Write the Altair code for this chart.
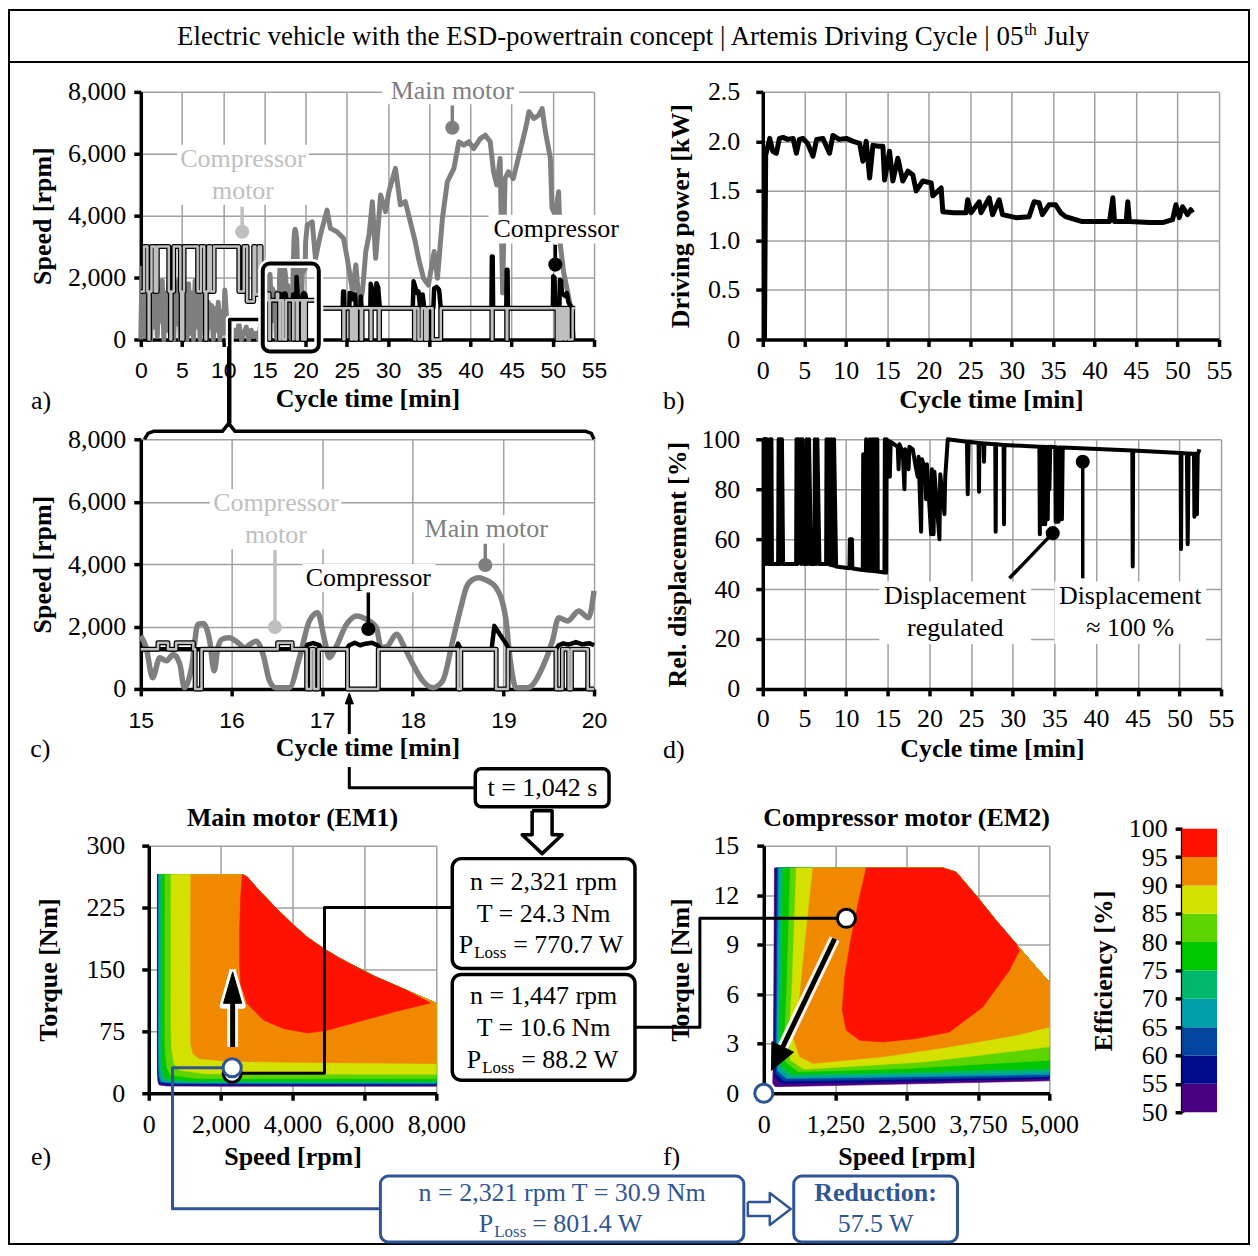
import altair as alt
import pandas as pd

SERIF = "Liberation Serif"
SANS = "Liberation Sans"
FS = 26
MAIN_C = "#7f7f7f"
CMOT_C = "#bfbfbf"
BLACK = "#000000"
BLUE_C = "#2f5597"
GRID_C = "#a0a0a0"

# ================= data =================
# (cycle time [min], speed [rpm])
main_motor_early = [(0.0,0),(0.15,2300),(0.3,200),(0.45,2500),(0.6,100),(0.75,1900),(0.9,300),(1.05,2100),(1.2,0),
    (1.4,1800),(1.6,400),(1.8,2000),(2.0,100),(2.2,1600),(2.4,600),(2.6,1900),(2.8,0),(3.0,1500),(3.2,300),
    (3.4,1800),(3.6,100),(3.8,2000),(4.0,0),(4.2,1700),(4.4,500),(4.6,1900),(4.8,0),(5.0,2200),(5.2,300),
    (5.4,1600),(5.6,0),(5.8,1800),(6.0,200),(6.2,1500),(6.4,0),(6.6,1900),(6.8,400),(7.0,1700),(7.2,0),
    (7.4,1400),(7.6,300),(7.8,1600),(8.0,0),(8.2,1200),(8.4,400),(8.6,1100),(8.8,0),(9.0,1000),(9.2,300),
    (9.4,1200),(9.6,0),(9.8,900),(10.0,200),(10.2,1600),(10.4,700),(10.6,100),(10.8,400),(11.0,0),(11.3,300),
    (11.6,100),(11.9,500),(12.2,0),(12.5,200),(12.8,400),(13.1,0),(13.4,300),(13.7,100),(14.0,200),(14.3,0),
    (14.6,600),(14.8,1700)]
main_motor_zoom = [(15.0,1700),(15.06,1320),(15.13,360),(15.21,1000),(15.28,900),(15.36,1100),(15.43,800),(15.48,40),
    (15.56,680),(15.63,2070),(15.69,2100),(15.76,1540),(15.81,580),(15.85,1320),(15.9,1600),(15.98,1640),
    (16.05,1530),(16.15,1320),(16.2,1420),(16.27,1530),(16.35,1100),(16.42,260),(16.49,40),(16.64,40),
    (16.75,1000),(16.86,2180),(16.95,2440),(17.03,1530),(17.08,1000),(17.15,1320),(17.27,2070),(17.38,2340),
    (17.49,2230),(17.6,1960),(17.65,1320),(17.72,1370),(17.82,1750),(17.91,1320),(18.0,800),(18.11,260),
    (18.22,40),(18.33,260),(18.44,1530),(18.53,2600),(18.59,3240),(18.66,3500),(18.73,3560),(18.8,3500),
    (18.92,3240),(19.03,2180),(19.06,1320),(19.14,40),(19.27,40),(19.43,680),(19.54,1530),(19.61,2280),
    (19.71,2180),(19.83,2500),(19.94,2280),(20.0,3140)]
main_motor_late = [(20.2,3700),(20.8,3800),(21.2,2620),(21.8,3380),(22.6,4180),(23.0,3590),(23.8,3480),(24.6,3270),
    (25.05,2620),(25.7,1550),(26.1,2410),(26.5,1120),(26.9,1550),(27.3,2840),(27.7,3380),(28.1,4450),
    (28.5,2620),(29.1,4670),(29.7,4130),(30.1,4770),(30.9,5530),(31.5,4350),(32.1,4450),(32.7,3810),
    (33.3,3160),(33.7,2620),(34.3,1980),(34.9,1760),(35.6,2840),(36.0,1980),(36.6,3910),(37.2,5100),
    (38.0,5530),(38.6,6390),(39.2,6280),(39.8,6390),(40.4,6170),(41.2,6490),(41.8,6600),(42.4,6390),
    (42.8,5420),(43.2,4990),(43.6,5850),(43.9,1500),(44.2,5200),(44.6,5420),(45.2,5200),(46.1,6170),
    (46.7,6820),(47.1,7360),(47.7,7140),(48.3,7250),(48.7,7460),(49.1,6710),(49.7,5850),(49.9,4240),
    (50.3,4020),(50.7,4770),(50.9,3060),(51.3,2190),(52.1,1120),(52.5,40)]
comp_motor_early = [(0.0,1550),(0.4,1550),(0.4,3000),(0.8,3000),(0.8,1550),(0.95,1550),(0.95,0),(1.05,0),(1.05,1550),
    (1.3,1550),(1.3,3000),(1.7,3000),(1.7,1550),(2.0,1550),(2.0,3000),(3.4,3000),(3.4,1550),(3.6,1550),(3.6,0),
    (3.7,0),(3.7,1550),(4.0,1550),(4.0,3000),(4.8,3000),(4.8,1550),(4.9,1550),(4.9,0),(5.15,0),(5.15,1550),
    (5.25,1550),(5.25,3000),(6.9,3000),(6.9,1550),(7.3,1550),(7.3,3000),(7.7,3000),(7.7,1550),(7.85,1550),
    (7.85,0),(7.95,0),(7.95,1550),(8.2,1550),(8.2,3000),(8.5,3000),(8.5,1550),(8.9,1550),(8.9,3000),
    (11.9,3000),(11.9,1550),(12.5,1550),(12.5,3000),(12.9,3000),(12.9,1230),(13.7,1230),(13.7,3000),
    (13.9,3000),(13.9,1450),(14.3,1450),(14.3,3000),(14.6,3000),(14.6,1270),(15.0,1270)]
comp_motor_zoom = [(15.0,1270),(15.19,1270),(15.19,1480),(15.3,1480),(15.3,1270),(15.39,1270),(15.39,1480),
    (15.58,1480),(15.58,1270),(15.6,1270),(15.6,0),(15.67,0),(15.67,1270),(16.51,1270),(16.51,1480),
    (16.67,1480),(16.67,1270),(16.83,1270),(16.83,0),(16.88,0),(16.88,1270),(16.91,1270),(16.91,0),
    (16.96,0),(16.96,1270),(17.28,1270),(17.28,0),(17.62,0),(17.62,1270),(18.5,1270),(18.5,0),(18.53,0),
    (18.53,1270),(18.92,1270),(18.92,0),(19.05,0),(19.05,1270),(19.58,1270),(19.58,0),(19.65,0),
    (19.65,1270),(19.72,1270),(19.72,0),(19.75,0),(19.75,1270),(19.93,1270),(19.93,0),(20.0,0)]
comp_motor_late = [(20.0,1270),(21.8,1270),(21.8,1010),(24.6,1010),(24.6,0),(24.7,0),(24.7,1010),(25.5,1010),
    (25.5,0),(25.7,0),(25.7,1010),(26.0,1010),(26.0,0),(26.2,0),(26.2,1010),(26.7,1010),(26.7,0),(26.85,0),
    (26.85,1010),(27.9,1010),(27.9,0),(27.97,0),(27.97,1010),(28.9,1010),(28.9,0),(28.97,0),(28.97,1010),
    (33.2,1010),(33.2,0),(33.3,0),(33.3,1010),(33.7,1010),(33.7,0),(34.1,0),(34.1,1010),(34.5,1010),
    (34.5,0),(34.8,0),(34.8,1010),(35.4,1010),(35.4,0),(36.4,0),(36.4,1010),(42.6,1010),(42.6,0),
    (42.67,0),(42.67,1010),(44.4,1010),(44.4,0),(44.47,0),(44.47,1010),(50.5,1010),(50.5,0),(50.7,0),
    (50.7,1010),(50.9,1010),(50.9,0),(51.1,0),(51.1,1010),(51.4,1010),(51.4,0),(51.6,0),(51.6,1010),
    (51.9,1010),(51.9,0),(52.4,0),(52.4,1010),(52.7,1010)]
compressor_zoom = [(15.0,1270),(16.82,1270),(16.84,1420),(16.9,1470),(16.97,1400),(16.99,1270),(17.27,1270),
    (17.3,1400),(17.36,1480),(17.42,1400),(17.48,1450),(17.55,1480),(17.62,1380),(17.65,1270),(18.48,1270),
    (18.5,1450),(18.53,1270),(18.87,1270),(18.9,2020),(18.96,1750),(19.03,1450),(19.06,1270),(19.58,1270),
    (19.61,1400),(19.66,1460),(19.72,1420),(19.8,1500),(19.87,1430),(19.95,1460),(20.0,1400)]
compressor_late = [(20.0,1400),(20.1,1270),(21.8,1270),(21.8,1010),(24.5,1010),(24.55,1550),(24.65,1550),
    (24.7,1010),(25.3,1010),(25.35,1500),(25.6,1480),(25.7,1300),(26.0,1450),(26.1,1010),(26.65,1010),
    (26.7,1390),(26.8,1010),(27.85,1010),(27.9,1800),(28.05,1650),(28.2,1010),(28.5,1010),(28.6,1820),
    (28.8,1700),(29.0,1010),(33.0,1010),(33.1,1880),(33.3,1700),(33.5,1500),(33.7,1550),(33.9,1010),
    (34.1,1010),(34.2,1450),(34.4,1010),(35.5,1010),(35.6,1650),(35.9,1700),(36.2,1600),(36.4,1010),
    (42.55,1010),(42.6,2680),(42.7,2680),(42.75,1010),(44.35,1010),(44.4,2250),(44.5,2250),(44.55,1010),
    (50.0,1010),(50.05,2040),(50.2,2000),(50.3,1010),(50.8,1010),(50.85,1930),(51.0,1900),(51.1,1500),
    (51.5,1400),(51.7,1500),(51.9,1200),(52.3,1010),(52.7,1010)]
# (cycle time [min], driving power [kW])
driving_power = [(0.2,0.0),(0.35,1.86),(0.84,2.03),(1.2,1.9),(1.64,1.88),(2.0,2.03),(2.44,2.04),(3.0,2.02),
    (3.65,2.03),(4.05,1.88),(4.4,2.02),(4.85,2.03),(5.4,1.98),(6.05,1.85),(6.5,2.02),(7.25,2.03),(8.05,1.88),
    (8.45,2.06),(9.2,2.02),(10.07,2.03),(10.9,2.0),(11.67,1.98),(12.07,1.80),(12.47,2.0),(12.88,1.63),
    (13.28,1.96),(14.0,1.95),(14.48,1.95),(14.68,1.61),(15.28,1.90),(15.68,1.60),(16.28,1.83),(16.88,1.60),
    (17.5,1.7),(18.09,1.66),(18.49,1.50),(19.29,1.60),(20.3,1.58),(20.5,1.45),(21.5,1.53),(21.7,1.29),
    (23.0,1.28),(24.5,1.28),(24.7,1.41),(25.1,1.28),(26.1,1.39),(26.3,1.28),(27.3,1.43),(27.7,1.26),
    (28.5,1.41),(28.9,1.26),(30.5,1.23),(32.1,1.24),(32.7,1.39),(33.3,1.38),(33.7,1.26),(34.5,1.36),
    (35.3,1.36),(35.9,1.28),(36.5,1.24),(38.5,1.19),(41.8,1.19),(42.2,1.43),(42.4,1.19),(43.8,1.19),
    (44.0,1.39),(44.2,1.19),(46.6,1.18),(48.2,1.18),(49.4,1.21),(49.8,1.36),(50.2,1.23),(50.6,1.34),
    (51.2,1.26),(51.6,1.31),(51.8,1.28)]
# (cycle time [min], relative displacement [%])
displacement = [(0.0,100),(0.24,100),(0.26,50),(0.3,100),(0.4,50),(0.5,100),(0.64,50),(0.84,50),(0.88,100),
    (0.95,50),(1.04,100),(1.1,50),(1.84,50),(1.9,100),(2.0,50),(2.1,100),(2.2,50),(2.3,100),(2.44,50),
    (4.0,50),(4.05,100),(4.15,50),(4.25,100),(4.4,60),(4.5,100),(4.6,50),(4.75,100),(5.0,50),(5.2,50),
    (5.25,100),(5.4,50),(5.55,100),(5.8,50),(6.2,50),(6.25,100),(6.4,50),(6.55,100),(6.8,50),(7.6,50),
    (7.65,100),(7.8,50),(7.95,100),(8.1,49.6),(8.25,100),(8.4,49.4),(8.55,100),(8.8,49),(10.4,48.3),
    (10.45,60),(10.7,60),(10.75,48.2),(12.0,47.6),(12.05,94),(12.2,47.5),(12.4,100),(12.45,47.4),
    (12.8,47.3),(12.85,100),(13.0,47.2),(13.15,100),(13.3,47.1),(13.45,100),(13.6,47),(13.75,100),
    (13.8,47),(14.6,46.6),(14.65,100),(14.8,46.5),(14.85,100),(15.2,99),(15.25,85),(15.35,99),(16.2,97),
    (16.3,88),(16.4,98),(16.8,95),(17.0,80),(17.1,96),(17.5,88),(17.6,97),(18.0,96),(18.3,90),(18.6,85),
    (18.7,93),(19.0,63),(19.1,92),(19.5,88),(19.6,76),(19.7,90),(20.2,62),(20.3,88),(20.5,62),(20.6,87),
    (21.2,60),(21.3,86),(21.8,70),(21.9,85),(22.2,100),(24.5,99),(24.6,78),(24.7,99),(25.9,98.5),
    (25.95,79),(26.0,98.5),(26.5,98.3),(26.55,91),(26.6,98.3),(27.9,98),(27.95,63),(28.0,98),(28.9,97.7),
    (28.95,66),(29.0,97.7),(33.2,97),(33.25,62),(33.3,97),(33.6,97),(33.65,66),(33.8,97),(33.9,66),
    (34.0,97),(34.2,68),(34.3,97),(34.4,80),(34.5,97),(35.1,96.8),(35.15,67),(35.3,96.8),(35.5,67),
    (35.7,96.8),(35.9,68),(36.0,96.7),(44.35,95.5),(44.4,49),(44.45,95.5),(50.15,94.5),(50.2,56),
    (50.25,94.5),(50.9,94.3),(51.0,58),(51.1,94.3),(51.75,94.2),(51.8,69),(51.9,94.2),(52.1,70),
    (52.2,94),(52.4,96)]

# efficiency legend
eff_levels = [50, 55, 60, 65, 70, 75, 80, 85, 90, 95]
eff_colors = ["#4b0082", "#000c8c", "#0046a0", "#00a0aa", "#00b86c",
              "#00c800", "#5cd400", "#d4e000", "#f08800", "#ff1100"]

# main motor EM1 map: (speed [rpm], torque [Nm])
em1_envelope_top = [(8000,109),(7185,124.5),(6260,142),(5330,163),(4870,175),(4410,189),(3945,207),
    (3480,227),(3020,248),(2740,262),(2600,265)]
em1_bounds = [
    [(240,265),(238,60),(242,25),(255,14),(290,10),(500,8.8),(2000,8.5),(8000,8.5)],
    [(248,265),(246,60),(250,27),(265,16),(300,11.5),(600,10.2),(8000,10)],
    [(258,265),(256,60),(262,29),(278,18),(320,12.8),(700,11.3),(8000,11)],
    [(275,265),(272,60),(280,32),(300,20),(345,14),(800,12.3),(8000,12)],
    [(300,265),(297,60),(306,35),(330,22),(380,15.5),(900,13.3),(8000,13)],
    [(360,265),(356,65),(370,40),(400,26),(470,18),(1100,15),(8000,14.5)],
    [(450,265),(445,70),(465,45),(510,30),(600,22),(1300,18),(8000,17.5)],
    [(620,265),(615,80),(640,52),(700,36),(850,28),(1600,23.5),(8000,23)],
    [(1167,265),(1160,120),(1167,60),(1230,48),(1398,42),(2092,39),(4000,37.5),(8000,36)],
]
em1_red = [(2602,265),(2556,237.5),(2528,197),(2528,157),(2556,132.6),(2741,108.5),(3204,88.3),(3759,78.2),
    (4407,73),(4963,76.2),(5796,86.3),(6815,98.4),(7833,109.3)]
# compressor motor EM2 map
em2_envelope_top = [(5000,6.73),(4767,7.64),(4418,9.05),(4068,10.46),(3718,11.97),(3369,13.39),(3135,13.65)]
em2_bounds = [
    [(186,13.65),(175,6),(165,2),(157,0.6),(200,0.4),(1000,0.45),(5000,0.75)],
    [(210,13.65),(195,6),(185,2.2),(190,1.0),(300,0.6),(1500,0.65),(5000,0.89)],
    [(233,13.65),(215,6),(205,2.4),(215,1.2),(350,0.75),(1600,0.8),(5000,1.0)],
    [(256,13.65),(235,6),(225,2.6),(240,1.35),(400,0.9),(1800,0.95),(5000,1.14)],
    [(292,13.65),(265,6),(250,2.8),(270,1.5),(450,1.0),(2000,1.1),(5000,1.3)],
    [(338,13.65),(300,6),(280,3.0),(300,1.7),(500,1.15),(2200,1.25),(5000,1.5)],
    [(466,13.65),(400,6),(360,3.2),(380,1.9),(600,1.3),(2500,1.5),(5000,2.0)],
    [(571,13.65),(490,6),(440,3.3),(470,2.0),(700,1.45),(2800,1.9),(5000,2.81)],
    [(862,13.65),(746,9.86),(629,5.83),(513,3.41),(629,2.21),(862,1.81),(2086,2.21),(3252,2.81),(4418,3.51),(5000,4.01)],
]
em2_red = [(1795,13.65),(1678,11.9),(1532,9.45),(1416,7.04),(1375,5.02),(1445,3.81),(1678,3.21),(2086,3.11),
    (2669,3.31),(3252,3.71),(3834,5.22),(4300,7.44),(4475,8.65)]

# operating points
op_em1 = (2321, 24.3)
op_em1_alt = (2321, 30.9)
op_em2 = (1447, 10.6)
op_em2_alt = (0, 0)
t_event = 17.3


# ================= helpers =================
def pdf(pairs):
    return pd.DataFrame({"x": [float(p[0]) for p in pairs],
                         "y": [float(p[1]) for p in pairs],
                         "i": list(range(len(pairs)))})


ONE = pd.DataFrame({"k": [0]})


class Panel:
    def __init__(self, xdom, ydom, xaxis=None, yaxis=None, yrev=False):
        self.xs = alt.Scale(domain=xdom, nice=False, zero=False)
        self.ys = alt.Scale(domain=ydom, nice=False, zero=False, reverse=yrev)
        self.xa = xaxis
        self.ya = yaxis

    def X(self, f):
        return alt.X(f, type="quantitative", scale=self.xs, axis=self.xa)

    def Y(self, f):
        return alt.Y(f, type="quantitative", scale=self.ys, axis=self.ya)

    def line(self, pairs, color, width, interp="linear", fill=None, opacity=1.0, cap="butt"):
        kw = dict(stroke=color, strokeWidth=width, interpolate=interp, strokeJoin="round",
                  opacity=opacity, strokeCap=cap)
        if fill is not None:
            kw["fill"] = fill
        return alt.Chart(pdf(pairs)).mark_line(**kw).encode(
            x=self.X("x"), y=self.Y("y"), order=alt.Order("i:Q"))

    def poly(self, pairs, fill, stroke=None, sw=0.6):
        return self.line(pairs + [pairs[0]], stroke or fill, sw, fill=fill)

    def text(self, rows, size=FS, weight="normal", align="center", font=SERIF):
        df = pd.DataFrame(rows, columns=["x", "y", "s", "c"])
        return alt.Chart(df).mark_text(font=font, fontSize=size, fontWeight=weight, align=align,
                                       baseline="middle").encode(
            x=self.X("x"), y=self.Y("y"), text="s:N", color=alt.Color("c:N", scale=None))

    def rect(self, rows, fill="white", stroke=None, sw=0, radius=0, fill_opacity=1.0):
        df = pd.DataFrame(rows, columns=["x1", "x2", "y1", "y2"])
        kw = dict(fill=fill, fillOpacity=fill_opacity, cornerRadius=radius)
        if stroke:
            kw.update(stroke=stroke, strokeWidth=sw)
        return alt.Chart(df).mark_rect(**kw).encode(
            x=self.X("x1"), x2=alt.X2("x2"), y=self.Y("y1"), y2=alt.Y2("y2"))

    def dots(self, rows, size):
        df = pd.DataFrame(rows, columns=["x", "y", "c"])
        return alt.Chart(df).mark_circle(size=size, opacity=1).encode(
            x=self.X("x"), y=self.Y("y"), color=alt.Color("c:N", scale=None))

    def rings(self, rows, size, sw=3):
        df = pd.DataFrame(rows, columns=["x", "y", "c"])
        return alt.Chart(df).mark_point(shape="circle", filled=False, fill="white", fillOpacity=1,
                                        size=size, strokeWidth=sw, opacity=1).encode(
            x=self.X("x"), y=self.Y("y"), stroke=alt.Stroke("c:N", scale=None))


def abs_text(text, x, y, size=FS, align="center", weight="normal"):
    return alt.Chart(ONE).mark_text(text=text, font=SERIF, fontSize=size, align=align, baseline="middle",
                                    fontWeight=weight, color="black").encode(
        x=alt.value(x), y=alt.value(y))


def spacer(w, h):
    return alt.Chart(ONE).mark_point(opacity=0).properties(width=w, height=h)


# ================= panel a =================
ax_a = alt.Axis(title="Cycle time [min]", values=list(range(0, 56, 5)), labelFont=SANS,
                labelFontSize=23, labelPadding=13, titlePadding=3)
ay_rpm = alt.Axis(title="Speed [rpm]", values=[0, 2000, 4000, 6000, 8000], format=",d",
                  labelPadding=8, titlePadding=12)
A = Panel([0, 55], [0, 8000], ax_a, ay_rpm)
cm_all = comp_motor_early + comp_motor_zoom + comp_motor_late
link_path = [(10.79, -2710), (10.79, 645), (14.8, 645)]
layers_a = [
    A.line(main_motor_early + main_motor_zoom + main_motor_late, MAIN_C, 5),
    A.line(compressor_zoom + compressor_late, BLACK, 4.5),
    A.line(cm_all, BLACK, 5),
    A.line(cm_all, CMOT_C, 2.5),
    A.rect([(29.3, 45.9, 7600, 8420), (4.4, 20.4, 4350, 6290), (42.2, 58.4, 3100, 4030)]),
    A.text([(37.8, 8030, "Main motor", MAIN_C), (12.4, 5840, "Compressor", CMOT_C),
            (12.4, 4810, "motor", CMOT_C), (50.4, 3580, "Compressor", BLACK)]),
    A.line([(37.8, 7560), (37.8, 6840)], MAIN_C, 3.5),
    A.line([(12.3, 4290), (12.3, 3480)], CMOT_C, 3.5),
    A.line([(50.3, 3060), (50.3, 2420)], BLACK, 3.5),
    A.dots([(37.8, 6840, MAIN_C), (12.3, 3480, CMOT_C), (50.3, 2420, BLACK)], 200),
    A.line([(10.79, -120), (10.79, 645), (14.8, 645)], "white", 8),
    A.line(link_path, BLACK, 3.5),
    A.rect([(14.8, 21.6, -387, 2452)], fill_opacity=0, stroke="white", sw=9, radius=7),
    A.rect([(14.8, 21.6, -387, 2452)], fill_opacity=0, stroke=BLACK, sw=4, radius=7),
    A.text([(-13.33, -2000, "a)", BLACK)], align="left"),
    # figure frame and heading
    alt.Chart(ONE).mark_rect(fill="white", fillOpacity=0, stroke="black", strokeWidth=2).encode(
        x=alt.value(-132), x2=alt.value(1110), y=alt.value(-82), y2=alt.value(1154)),
    alt.Chart(ONE).mark_rule(color="black", strokeWidth=2).encode(
        x=alt.value(-132), x2=alt.value(1110), y=alt.value(-30)),
    abs_text("Electric vehicle with the ESD-powertrain concept | Artemis Driving Cycle | 05", 884, -55,
             size=27, align="right"),
    abs_text("th", 885, -62, size=16, align="left"),
    abs_text("July", 905, -55, size=27, align="left"),
]
chart_a = alt.layer(*layers_a).properties(width=454, height=248)

# ================= panel b =================
ax_b = alt.Axis(title="Cycle time [min]", values=list(range(0, 56, 5)), labelPadding=11, titlePadding=3)
ay_b = alt.Axis(title="Driving power [kW]", values=[0, 0.5, 1, 1.5, 2, 2.5],
                labelExpr="datum.value == 0 ? '0' : format(datum.value, '.1f')",
                labelPadding=16, titlePadding=14)
B = Panel([0, 55], [0, 2.5], ax_b, ay_b)
chart_b = alt.layer(
    B.line(driving_power, BLACK, 5),
    B.text([(-12.03, -0.625, "b)", BLACK)], align="left"),
).properties(width=457, height=248)

# ================= panel c =================
ax_c = alt.Axis(title="Cycle time [min]", values=[15, 16, 17, 18, 19, 20], labelFont=SANS,
                labelFontSize=23, labelPadding=14, titlePadding=2)
C = Panel([15, 20], [0, 8000], ax_c, ay_rpm)
hollow_down = [(19.317, -3904), (19.537, -3904), (19.537, -4672), (19.648, -4672), (19.427, -5280),
               (19.207, -4672), (19.317, -4672)]
layers_c = [
    C.line(main_motor_zoom, MAIN_C, 5.5, interp="monotone"),
    C.line(compressor_zoom, BLACK, 4.5),
    C.line(comp_motor_zoom, BLACK, 5),
    C.line(comp_motor_zoom, CMOT_C, 2.5),
    C.rect([(15.76, 17.21, 4480, 6400), (18.09, 19.53, 4670, 5570), (16.78, 18.25, 3100, 4000)]),
    C.text([(16.49, 5950, "Compressor", CMOT_C), (16.49, 4930, "motor", CMOT_C),
            (18.81, 5120, "Main motor", MAIN_C), (17.51, 3550, "Compressor", BLACK)]),
    C.line([(16.48, 4450), (16.48, 1980)], CMOT_C, 3.5),
    C.line([(18.8, 4650), (18.8, 3970)], MAIN_C, 3.5),
    C.line([(17.51, 3090), (17.51, 1920)], BLACK, 3.5),
    C.dots([(16.48, 1980, CMOT_C), (18.8, 3970, MAIN_C), (17.51, 1920, BLACK)], 200),
    # bracket linking panel a and panel c
    C.line([(15.04, 8000), (15.08, 8190), (15.14, 8256), (15.9, 8256), (15.97, 8512), (16.04, 8256),
            (19.91, 8256), (19.97, 8190), (20.0, 8000)], BLACK, 3.5),
    C.line([(15.97, 8512), (15.97, 10976)], BLACK, 3.5),
    # event time marker
    C.poly([(t_event, -130), (t_event - 0.045, -480), (t_event + 0.045, -480)], BLACK, BLACK, 1),
    C.line([(t_event, -450), (t_event, -1450)], BLACK, 3),
    C.line([(t_event, -2500), (t_event, -3168), (18.69, -3168)], BLACK, 3),
    C.rect([(18.69, 20.165, -2560, -3776)], stroke=BLACK, sw=3.5, radius=6),
    C.text([(19.43, -3168, "t = 1,042 s", BLACK)]),
    C.poly(hollow_down, "white", BLACK, 3.5),
    C.text([(13.78, -1920, "c)", BLACK)], align="left"),
]
chart_c = alt.layer(*layers_c).properties(width=454, height=250)

# ================= panel d =================
ax_d = alt.Axis(title="Cycle time [min]", values=list(range(0, 56, 5)), labelPadding=10, titlePadding=4)
ay_d = alt.Axis(title="Rel. displacement [%]", values=[0, 20, 40, 60, 80, 100],
                labelPadding=16, titlePadding=10)
D = Panel([0, 55], [0, 100], ax_d, ay_d)
chart_d = alt.layer(
    D.line(displacement, BLACK, 4),
    D.rect([(14.0, 32.2, 18, 43), (35.0, 53.2, 18, 43)]),
    D.text([(23.1, 37.3, "Displacement", BLACK), (23.1, 24.5, "regulated", BLACK),
            (44.1, 37.3, "Displacement", BLACK), (44.1, 24.5, "\u2248 100 %", BLACK)]),
    D.line([(29.6, 44.3), (34.8, 62.4)], BLACK, 3.5),
    D.line([(38.4, 44.3), (38.4, 91)], BLACK, 3.5),
    D.dots([(34.8, 62.4, BLACK), (38.4, 91, BLACK)], 200),
    D.text([(-11.98, -24.5, "d)", BLACK)], align="left"),
).properties(width=459, height=250)

# ================= panel e =================
ax_e = alt.Axis(title="Speed [rpm]", values=[0, 2000, 4000, 6000, 8000], format=",d", labelPadding=11,
                titlePadding=6)
ay_e = alt.Axis(title="Torque [Nm]", values=[0, 75, 150, 225, 300], labelPadding=17, titlePadding=24)
E = Panel([0, 8000], [0, 300], ax_e, ay_e)
layers_e = []
for bound, col in zip(em1_bounds, eff_colors[:9]):
    layers_e.append(E.poly(bound + em1_envelope_top, col))
layers_e.append(E.poly(em1_red + [p for p in em1_envelope_top if p[0] < em1_red[-1][0]], eff_colors[9]))
layers_e += [
    E.line([op_em1, (4889, op_em1[1]), (4889, 225), (8444, 225)], BLACK, 3),
    E.line([op_em1_alt, (660, op_em1_alt[1]), (660, -140), (6444, -140)], BLUE_C, 3),
    E.line([(2333, 56), (2333, 112)], "white", 11, opacity=0.9),
    E.poly([(2333, 150), (2055, 106), (2611, 106)], "white", "white", 6),
    E.line([(2333, 56), (2333, 112)], BLACK, 5),
    E.poly([(2333, 147), (2080, 109), (2586, 109)], BLACK, BLACK, 1),
    E.rings([(op_em1[0], op_em1[1], BLACK)], 330),
    E.rings([(op_em1_alt[0], op_em1_alt[1], BLUE_C)], 330),
    E.text([(-3278, -77, "e)", BLACK)], align="left"),
]
chart_e = alt.layer(*layers_e).properties(
    width=288, height=248,
    title=alt.TitleParams("Main motor (EM1)", font=SERIF, fontSize=FS, fontWeight="bold", color="black",
                          offset=2))

# ================= panel f =================
ax_f = alt.Axis(title="Speed [rpm]", values=[0, 1250, 2500, 3750, 5000], format=",d", labelPadding=11,
                titlePadding=6)
ay_f = alt.Axis(title="Torque [Nm]", values=[0, 3, 6, 9, 12, 15], labelPadding=18, titlePadding=19)
F = Panel([0, 5000], [0, 15], ax_f, ay_f)
layers_f = []
for bound, col in zip(em2_bounds, eff_colors[:9]):
    layers_f.append(F.poly(bound + em2_envelope_top, col))
layers_f.append(F.poly(em2_red + [p for p in em2_envelope_top if p[0] < em2_red[-1][0]], eff_colors[9]))
layers_f += [
    F.line([(-2255, 4.0), (-1119, 4.0), (-1119, op_em2[1]), op_em2], BLACK, 3),
    F.line([(1241, 9.36), (332, 2.80)], "white", 11, opacity=0.9),
    F.line([(1241, 9.36), (332, 2.80)], BLACK, 5),
    F.poly([(134, 1.39), (521, 2.49), (143, 3.12)], BLACK, BLACK, 1),
    F.rings([(op_em2[0], op_em2[1], BLACK)], 330),
    F.rings([(op_em2_alt[0], op_em2_alt[1], BLUE_C)], 330),
    F.text([(-1766, -3.87, "f)", BLACK)], align="left"),
]
chart_f = alt.layer(*layers_f).properties(
    width=286, height=248,
    title=alt.TitleParams("Compressor motor (EM2)", font=SERIF, fontSize=FS, fontWeight="bold",
                          color="black", offset=2))

# ================= annotation boxes between the maps =================
M = Panel([0, 328], [0, 248], None, None, yrev=True)
layers_m = [
    M.rect([(16, 199, 13, 123), (16, 199, 129, 235)], stroke=BLACK, sw=3.5, radius=9),
    M.text([(107.5, 36, "n = 2,321 rpm", BLACK), (107.5, 68, "T = 24.3 Nm", BLACK),
            (107.5, 151, "n = 1,447 rpm", BLACK), (107.5, 183, "T = 10.6 Nm", BLACK)]),
    M.text([(37, 100, "P", BLACK), (45, 215, "P", BLACK)], align="right"),
    M.text([(38, 108, "Loss", BLACK), (46, 223, "Loss", BLACK)], size=17, align="left"),
    M.text([(77, 100, "= 770.7 W", BLACK), (85, 215, "= 88.2 W", BLACK)], align="left"),
    M.rect([(-56, 308, 331, 397), (358, 522, 331, 397)], stroke=BLUE_C, sw=3, radius=8),
    M.text([(126, 348, "n = 2,321 rpm  T = 30.9 Nm", BLUE_C), (440, 379, "57.5 W", BLUE_C)]),
    M.text([(440, 348, "Reduction:", BLUE_C)], weight="bold"),
    M.text([(57, 379, "P", BLUE_C)], align="right"),
    M.text([(58, 387, "Loss", BLUE_C)], size=17, align="left"),
    M.text([(96, 379, "= 801.4 W", BLUE_C)], align="left"),
    M.poly([(312, 357), (334, 357), (334, 348), (355, 364), (334, 380), (334, 371), (312, 371)],
           "white", BLUE_C, 2.5),
]
chart_m = alt.layer(*layers_m).properties(width=328, height=248)

# ================= colour bar =================
cb_df = pd.DataFrame({"lo": eff_levels, "hi": [v + 5 for v in eff_levels], "c": eff_colors,
                      "x0": [0] * len(eff_levels), "x1": [1] * len(eff_levels)})
chart_cb = alt.Chart(cb_df).mark_rect().encode(
    x=alt.X("x0:Q", scale=alt.Scale(domain=[0, 1]), axis=None),
    x2="x1:Q",
    y=alt.Y("lo:Q", scale=alt.Scale(domain=[50, 100], range=[267, -17], nice=False, zero=False),
            axis=alt.Axis(title="Efficiency [%]", values=eff_levels + [100], grid=False,
                          labelPadding=8, titlePadding=12)),
    y2="hi:Q",
    color=alt.Color("c:N", scale=None),
).properties(width=35, height=248)

# ================= layout =================
# nested rows count as zero height in the flush outer layout, so the spacers carry row height + gap
row1 = alt.hconcat(chart_a, chart_b, spacing=169, bounds="flush")
row2 = alt.hconcat(chart_c, chart_d, spacing=169, bounds="flush")
row3 = alt.hconcat(spacer(8, 248), chart_e, chart_m, chart_f, spacer(133, 248), chart_cb,
                   spacing=0, bounds="flush")
chart = alt.vconcat(row1, spacer(10, 348), row2, spacer(10, 407), row3, spacing=0, bounds="flush")
chart = chart.properties(padding=0, background="white").configure_view(stroke=None).configure_axis(
    domainColor="black", domainWidth=3.5, tickColor="black", tickWidth=3.5, tickSize=7,
    grid=True, gridColor=GRID_C, gridWidth=1.5,
    labelFont=SERIF, labelFontSize=FS, labelColor="black",
    titleFont=SERIF, titleFontSize=FS, titleFontWeight="bold", titleColor="black",
    labelFlush=False, labelOverlap=False, labelPadding=6, titlePadding=10)

chart.save("out.html", embed_options={"renderer": "svg", "actions": False})
